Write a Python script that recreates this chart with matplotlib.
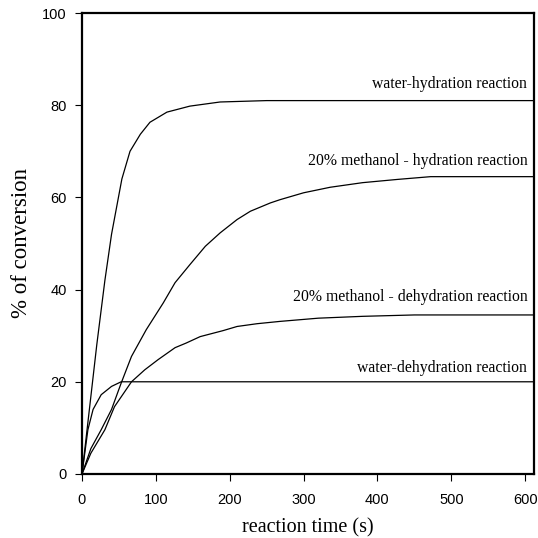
import matplotlib
matplotlib.use("Agg")
import matplotlib.pyplot as plt

# values (time in s, conversion in %)
t_wh = [0, 10, 20, 31, 40, 54, 65, 79, 92, 115, 146, 187, 250, 350, 612]
c_wh = [0, 14, 28, 42, 52, 64, 70, 73.7, 76.3, 78.5, 79.8, 80.7, 81, 81, 81]

t_mh = [0, 12, 26, 40, 53, 67, 87, 110, 126, 146, 167, 187, 210, 228, 255, 268,
        300, 336, 380, 427, 472, 612]
c_mh = [0, 5.5, 9.6, 14, 19.7, 25.5, 31.3, 37.1, 41.5, 45.4, 49.4, 52.3, 55.2,
        57, 58.8, 59.5, 61, 62.2, 63.2, 63.9, 64.5, 64.5]

t_md = [0, 12, 31, 44, 67, 85, 103, 126, 141, 160, 191, 210, 237, 268, 320,
        380, 450, 612]
c_md = [0, 4.5, 9.6, 14.6, 20, 22.6, 24.8, 27.4, 28.4, 29.8, 31.1, 32, 32.6,
        33.1, 33.8, 34.2, 34.5, 34.5]

t_wd = [0, 8, 15, 26, 40, 53, 70, 612]
c_wd = [0, 9.6, 14, 17.2, 19, 20, 20, 20]

labels = ["water-hydration reaction",
          "20% methanol - hydration reaction",
          "20% methanol - dehydration reaction",
          "water-dehydration reaction"]
label_y = [84.6, 67.8, 38.3, 23]

xticks = [0, 100, 200, 300, 400, 500, 600]
yticks = [0, 20, 40, 60, 80, 100]

serif = ["Liberation Serif", "DejaVu Serif"]
sans = ["Liberation Sans", "DejaVu Sans"]

fig = plt.figure(figsize=(5.38, 5.38), dpi=100)
ax = fig.add_axes([0.1524, 0.119, 0.8402, 0.8568])

for t, c in [(t_wh, c_wh), (t_mh, c_mh), (t_md, c_md), (t_wd, c_wd)]:
    ax.plot(t, c, color="black", lw=0.9)

for lab, y in zip(labels, label_y):
    ax.text(603, y, lab, ha="right", va="center", fontsize=11.3,
            family=serif)

ax.set_xlim(0, 612)
ax.set_ylim(0, 100)
ax.set_xticks(xticks)
ax.set_yticks(yticks)
for s in ax.spines.values():
    s.set_linewidth(1.6)
ax.tick_params(direction="out", length=5, width=0.8, labelsize=10.5)
ax.tick_params(axis="x", pad=9)
ax.tick_params(axis="y", pad=6)
for lb in ax.get_xticklabels() + ax.get_yticklabels():
    lb.set_family(sans)

ax.set_xlabel("reaction time (s)", fontsize=14.5, family=serif, labelpad=8)
ax.set_ylabel("% of conversion", fontsize=16.5, family=serif, labelpad=7)

fig.savefig("out.png", dpi=100)
